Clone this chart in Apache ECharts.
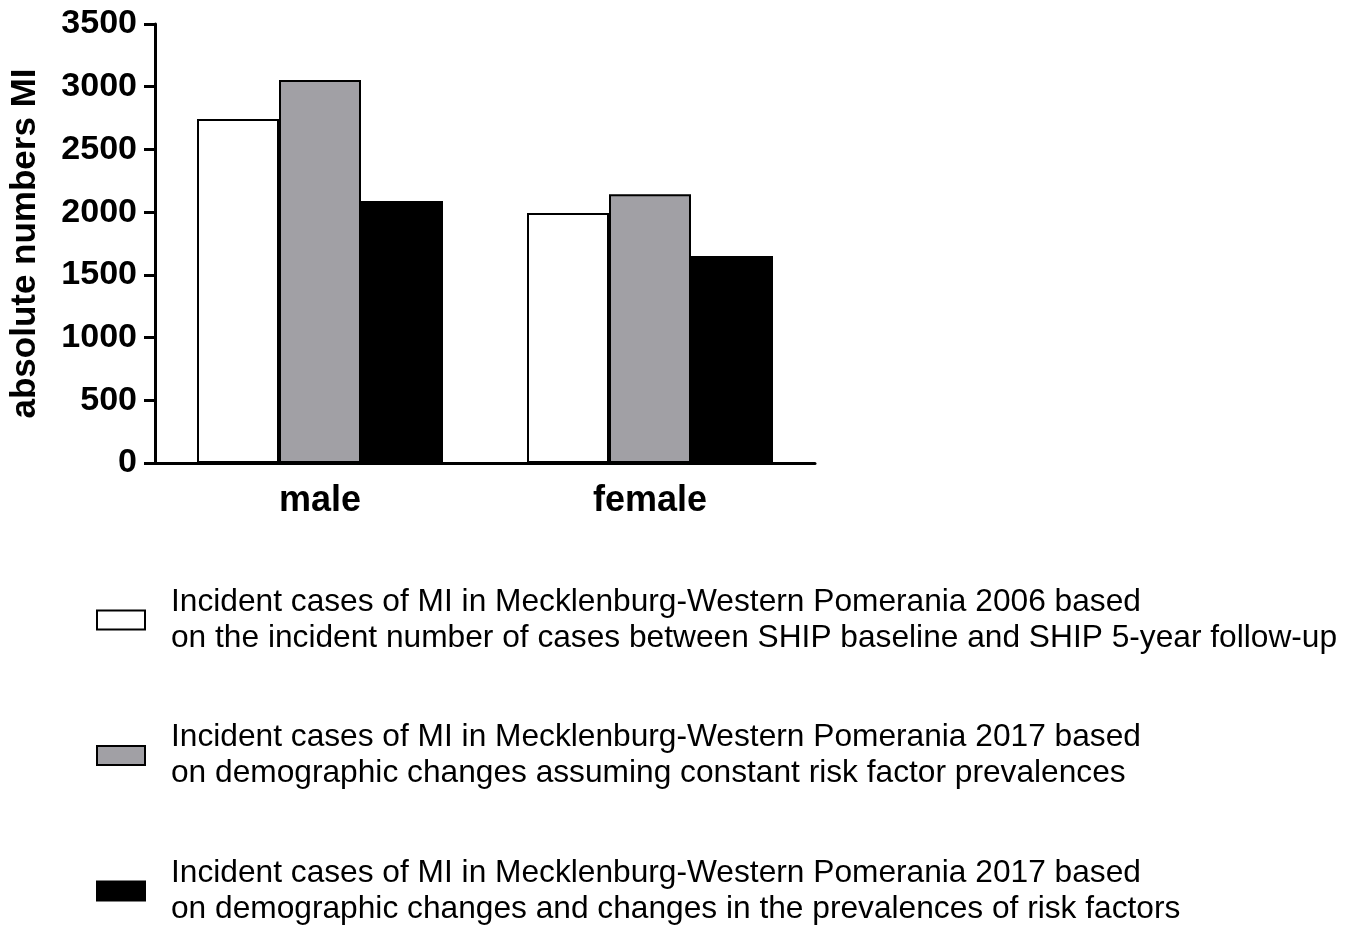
<!DOCTYPE html>
<html>
<head>
<meta charset="utf-8">
<style>
  html, body { margin: 0; padding: 0; background: #fff; }
  #chart { width: 1347px; height: 926px; }
</style>
<script src="https://cdn.jsdelivr.net/npm/echarts@6/dist/echarts.min.js"></script>
</head>
<body>
<div id="chart"></div>
<script>
const categories = ['male', 'female'];

const seriesNames = [
  'Incident cases of MI in Mecklenburg-Western Pomerania 2006 based\non the incident number of cases between SHIP baseline and SHIP 5-year follow-up',
  'Incident cases of MI in Mecklenburg-Western Pomerania 2017 based\non demographic changes assuming constant risk factor prevalences',
  'Incident cases of MI in Mecklenburg-Western Pomerania 2017 based\non demographic changes and changes in the prevalences of risk factors',
];

const cases2006 = [2742, 1993];
const cases2017Demographic = [3053, 2142];
const cases2017RiskFactors = [2089, 1650];

const fills = ['#ffffff', '#a1a0a5', '#000000'];
const font = '"Liberation Sans", Arial, sans-serif';

const seriesData = [cases2006, cases2017Demographic, cases2017RiskFactors];

const chart = echarts.init(document.getElementById('chart'));
chart.setOption({
  backgroundColor: '#ffffff',
  animation: false,
  textStyle: { fontFamily: font },
  grid: { left: 155, right: 532, top: 24, bottom: 463, containLabel: false },
  legend: {
    orient: 'vertical',
    left: 96,
    top: 584,
    height: 360,
    padding: 0,
    itemGap: 63.5,
    itemWidth: 48,
    itemHeight: 19,
    icon: 'rect',
    selectedMode: false,
    textStyle: {
      fontFamily: font,
      fontSize: 31.7,
      lineHeight: 36,
      color: '#000',
      padding: [0, 0, 0, 21],
    },
    data: seriesNames,
  },
  xAxis: {
    type: 'category',
    data: categories,
    axisLine: { lineStyle: { color: '#000', width: 3 } },
    axisTick: { alignWithLabel: true, length: 11, lineStyle: { color: '#000', width: 3 } },
    axisLabel: { color: '#000', fontSize: 36, fontWeight: 'bold', margin: 20, fontFamily: font },
  },
  yAxis: {
    type: 'value',
    min: 0,
    max: 3500,
    interval: 500,
    name: 'absolute numbers MI',
    nameLocation: 'middle',
    nameRotate: 90,
    nameGap: 112,
    nameTextStyle: { color: '#000', fontSize: 35, fontWeight: 'bold', fontFamily: font },
    axisLine: { show: true, lineStyle: { color: '#000', width: 3 } },
    axisTick: { show: true, length: 11, lineStyle: { color: '#000', width: 3 } },
    axisLabel: {
      color: '#000', fontSize: 34, fontWeight: 'bold', margin: 18, fontFamily: font,
      formatter: (v) => String(v),
    },
    splitLine: { show: false },
  },
  series: seriesData.map((values, i) => ({
    name: seriesNames[i],
    type: 'bar',
    barWidth: 82,
    barGap: '0%',
    data: values,
    itemStyle: { color: fills[i], borderColor: '#000', borderWidth: 2 },
  })),
});
</script>
</body>
</html>
